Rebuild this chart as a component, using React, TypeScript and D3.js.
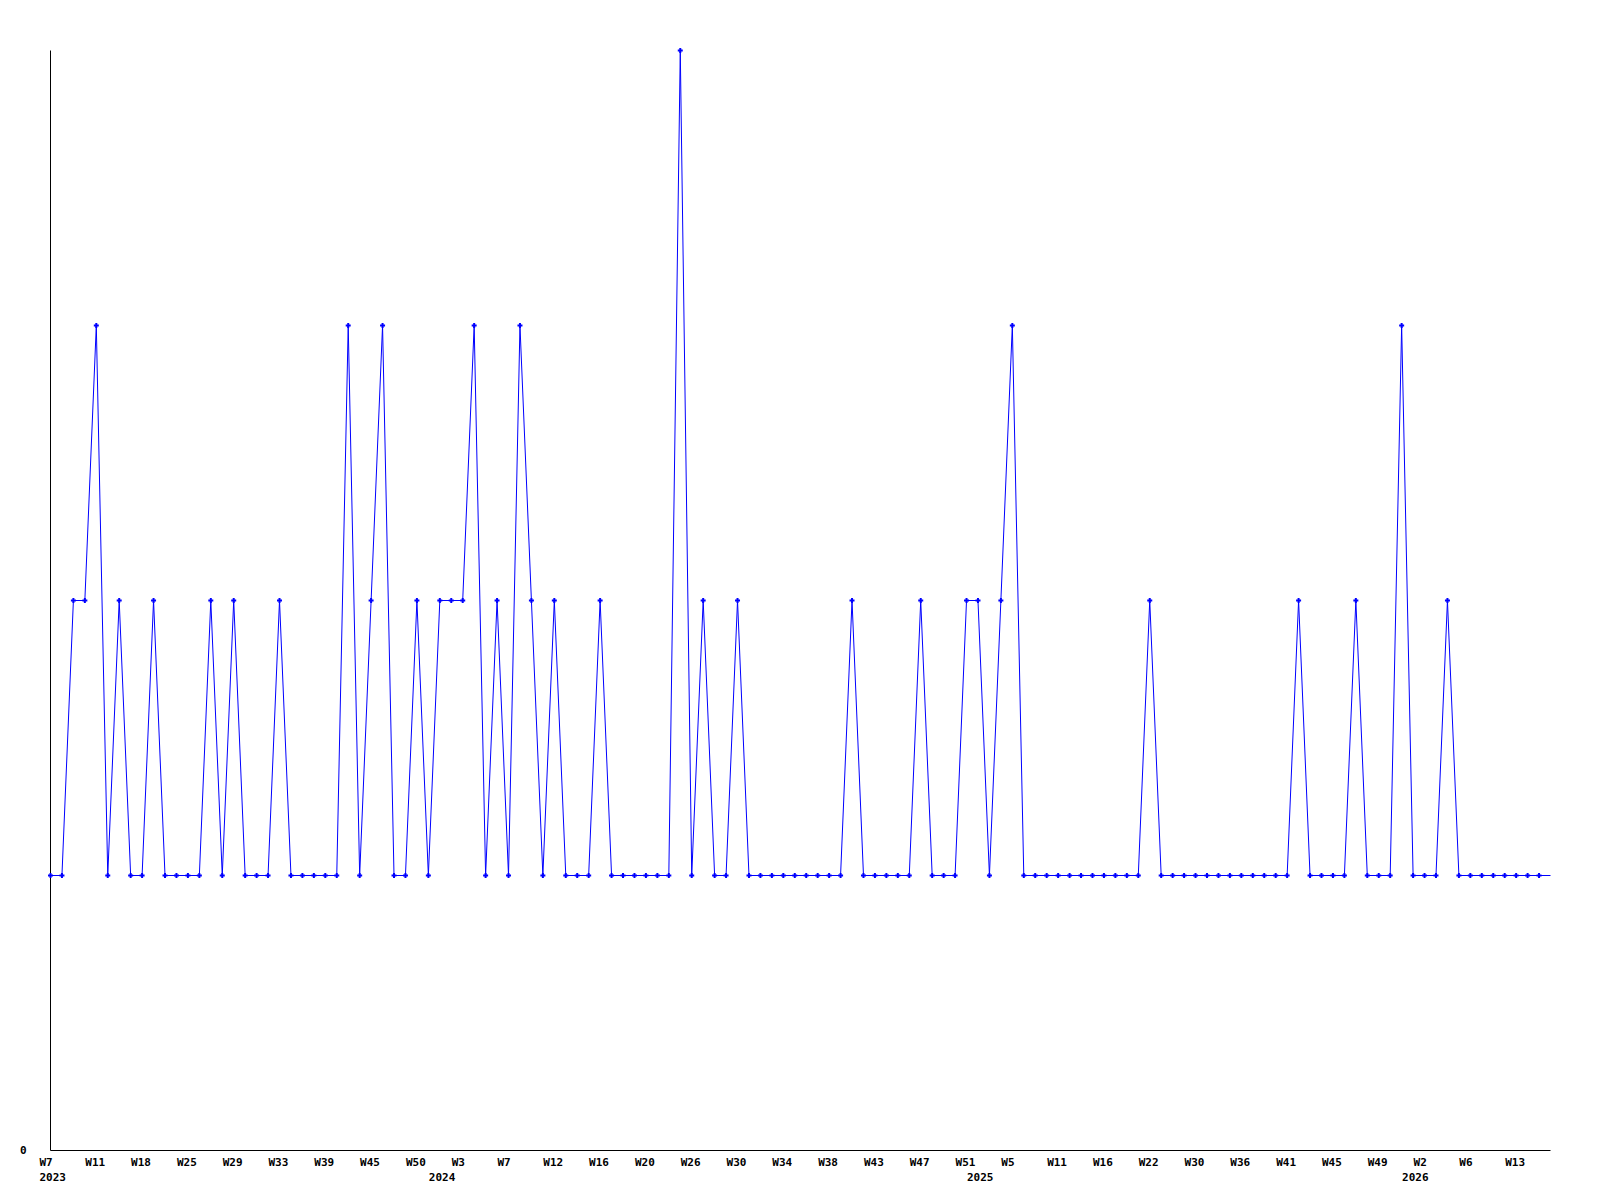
import React from "react";
import * as d3 from "d3";

const weeks2023 = [7, 8, 9, 10, 11, 13, 14, 16, 18, 20, 21, 23, 25, 26, 27, 28, 29, 30, 31, 32, 33, 34, 36, 37, 39, 40, 42, 43, 45, 46, 47, 49, 50, 52];
const values2023 = [1, 1, 2, 2, 3, 1, 2, 1, 1, 2, 1, 1, 1, 1, 2, 1, 2, 1, 1, 1, 2, 1, 1, 1, 1, 1, 3, 1, 2, 3, 1, 1, 2, 1];

const weeks2024 = [1, 2, 3, 4, 5, 6, 7, 8, 10, 11, 12, 13, 14, 15, 16, 17, 18, 19, 20, 22, 23, 25, 26, 27, 28, 29, 30, 31, 32, 33, 34, 35, 36, 37, 38, 39, 40, 42, 43, 44, 45, 46, 47, 48, 49, 50, 51];
const values2024 = [2, 2, 2, 3, 1, 2, 1, 3, 2, 1, 2, 1, 1, 1, 2, 1, 1, 1, 1, 1, 1, 4, 1, 2, 1, 1, 2, 1, 1, 1, 1, 1, 1, 1, 1, 1, 2, 1, 1, 1, 1, 1, 2, 1, 1, 1, 2];

const weeks2025 = [2, 3, 4, 5, 6, 8, 10, 11, 12, 13, 15, 16, 18, 19, 20, 22, 24, 26, 28, 30, 31, 33, 35, 36, 37, 39, 40, 41, 42, 43, 44, 45, 46, 47, 48, 49, 50, 52];
const values2025 = [2, 1, 2, 3, 1, 1, 1, 1, 1, 1, 1, 1, 1, 1, 1, 2, 1, 1, 1, 1, 1, 1, 1, 1, 1, 1, 1, 1, 2, 1, 1, 1, 1, 2, 1, 1, 1, 3];

const weeks2026 = [1, 2, 3, 4, 5, 6, 8, 10, 11, 13, 14, 15];
const values2026 = [1, 1, 1, 2, 1, 1, 1, 1, 1, 1, 1, 1];

const years = [2023, 2024, 2025, 2026];
const yTicks = [0];
const labelEvery = 4;

type Pt = { i: number; year: number; week: number; value: number };

const groups: [number, number[], number[]][] = [
  [years[0], weeks2023, values2023],
  [years[1], weeks2024, values2024],
  [years[2], weeks2025, values2025],
  [years[3], weeks2026, values2026],
];

const data: Pt[] = [];
groups.forEach(([year, ws, vs]) => {
  ws.forEach((w, k) => data.push({ i: data.length, year, week: w, value: vs[k] }));
});

const W = 1600;
const H = 1200;
const left = 50;
const right = 1550;
const top = 50;
const bottom = 1150;

export default function App() {
  const x = d3
    .scaleBand<number>()
    .domain(data.map((d) => d.i))
    .range([left, right])
    .paddingInner(0)
    .paddingOuter(0);
  const y = d3.scaleLinear().domain([0, 4]).range([bottom, top]);

  const line = d3
    .line<Pt>()
    .x((d) => x(d.i)!)
    .y((d) => y(d.value));

  const font = "'DejaVu Sans Mono', monospace";
  const yearStarts = data.filter((d, k) => k === 0 || data[k - 1].year !== d.year);

  return (
    <svg
      width={W}
      height={H}
      style={{ position: "absolute", left: 0, top: 0, background: "#fff" }}
    >
      <g transform="translate(0.5,0.5)">
        <line x1={left} x2={left} y1={top} y2={bottom} stroke="#000" strokeWidth={1} />
        <line x1={left} x2={right} y1={bottom} y2={bottom} stroke="#000" strokeWidth={1} />
        {yTicks.map((t) => (
          <text
            key={t}
            x={19.5}
            y={y(t) + 3.5}
            fontFamily={font}
            fontWeight="bold"
            fontSize={11}
            fill="#000"
          >
            {t}
          </text>
        ))}
        {data
          .filter((d) => d.i % labelEvery === 0)
          .map((d) => (
            <text
              key={"w" + d.i}
              x={x(d.i)! - 11}
              y={1165.5}
              fontFamily={font}
              fontWeight="bold"
              fontSize={11}
              fill="#000"
            >
              {"W" + d.week}
            </text>
          ))}
        {yearStarts.map((d) => (
          <text
            key={"y" + d.year}
            x={x(d.i)! - 11}
            y={1180.5}
            fontFamily={font}
            fontWeight="bold"
            fontSize={11}
            fill="#000"
          >
            {d.year}
          </text>
        ))}
        <path d={line(data) || ""} fill="none" stroke="#0000ff" strokeWidth={1} />
        <line
          x1={x(data[data.length - 1].i)!}
          x2={right}
          y1={y(data[data.length - 1].value)}
          y2={y(data[data.length - 1].value)}
          stroke="#0000ff"
          strokeWidth={1}
        />
        {data.map((d) => (
          <path
            key={"m" + d.i}
            transform={`translate(${x(d.i)},${y(d.value)})`}
            d="M-2.5,-1H2.5V1H-2.5Z M-1,-2.5H1V2.5H-1Z"
            fill="#0000ff"
          />
        ))}
      </g>
    </svg>
  );
}
